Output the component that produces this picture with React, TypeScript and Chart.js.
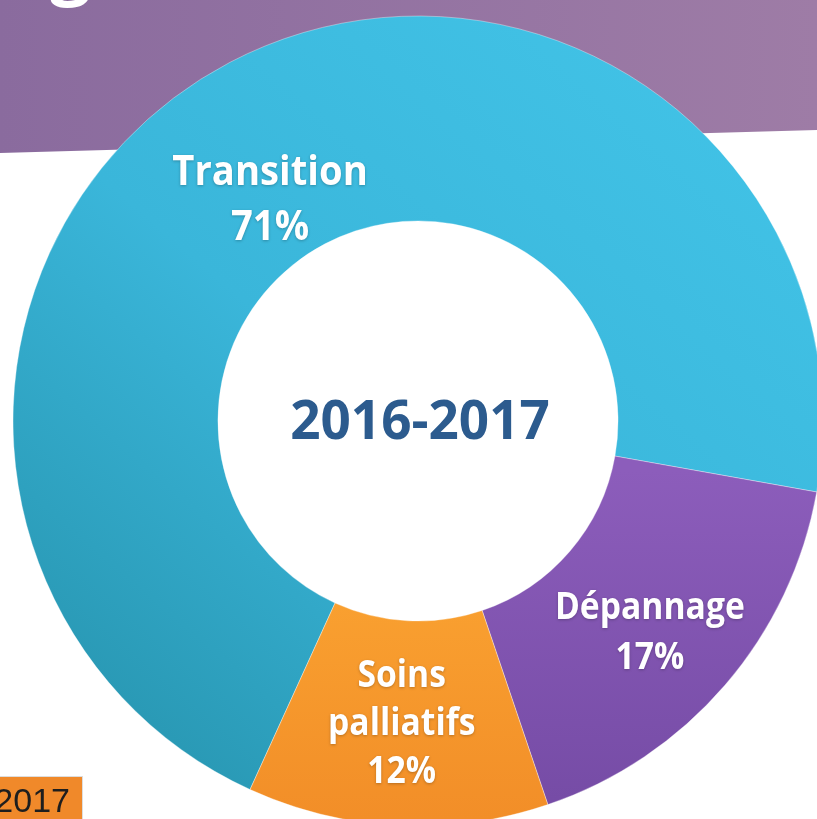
import React, { useEffect, useRef } from "react";
import { Chart, registerables } from "chart.js";

Chart.register(...registerables);

// ---- data ----
const categories = ["Transition", "Dépannage", "Soins palliatifs"];
const labelLines = [["Transition"], ["Dépannage"], ["Soins", "palliatifs"]];
const shares = [71, 17, 12];
const centerTitle = "2016-2017";
const cornerTag = "2017";
const titleFragment = "g";

// ---- style ----
const labelRadialFactor = [0.886, 1.033, 0.995];
const labelAngleShiftDeg = [-5.8, 1.4, 0.2];
const labelFontPx = [42, 37, 37];
const labelLineGap = [55, 50, 48];
const W = 817;
const H = 819;

export default function App() {
  const ref = useRef<HTMLCanvasElement>(null);

  useEffect(() => {
    const canvas = ref.current!;
    const ctx0 = canvas.getContext("2d")!;

    const gTrans = ctx0.createLinearGradient(700, 80, 150, 720);
    gTrans.addColorStop(0, "#41C2E6");
    gTrans.addColorStop(0.55, "#3AB6DA");
    gTrans.addColorStop(1, "#2A9AB6");
    const gDep = ctx0.createLinearGradient(600, 470, 600, 800);
    gDep.addColorStop(0, "#8C5DBB");
    gDep.addColorStop(1, "#764CA6");
    const gSoins = ctx0.createLinearGradient(400, 600, 400, 819);
    gSoins.addColorStop(0, "#F9A030");
    gSoins.addColorStop(1, "#F28E28");
    const fills = [gTrans, gDep, gSoins];

    const bgPlugin = {
      id: "bgPlugin",
      beforeDraw(chart: any) {
        const ctx = chart.ctx as CanvasRenderingContext2D;
        ctx.save();
        ctx.fillStyle = "#ffffff";
        ctx.fillRect(0, 0, W, H);
        const band = ctx.createLinearGradient(0, 0, W, 0);
        band.addColorStop(0, "#8A6B9E");
        band.addColorStop(1, "#9E7CA6");
        ctx.fillStyle = band;
        ctx.beginPath();
        ctx.moveTo(0, 0);
        ctx.lineTo(W, 0);
        ctx.lineTo(W, 130);
        ctx.lineTo(0, 153);
        ctx.closePath();
        ctx.fill();
        // cropped title fragment
        ctx.fillStyle = "#ffffff";
        ctx.font = "700 72px 'Open Sans', sans-serif";
        ctx.textAlign = "left";
        ctx.textBaseline = "alphabetic";
        ctx.fillText(titleFragment, 50, -9);
        // corner tag
        ctx.fillStyle = "#F0892A";
        ctx.fillRect(0, 776, 82, 43);
        ctx.strokeStyle = "#dddddd";
        ctx.lineWidth = 1;
        ctx.strokeRect(-1, 776.5, 83.5, 44);
        ctx.fillStyle = "#1e1e1e";
        ctx.font = "34px 'Liberation Sans', sans-serif";
        ctx.textAlign = "right";
        ctx.fillText(cornerTag, 70, 812);
        ctx.restore();
      },
    };

    const labelPlugin = {
      id: "labelPlugin",
      afterDatasetsDraw(chart: any) {
        const ctx = chart.ctx as CanvasRenderingContext2D;
        const meta = chart.getDatasetMeta(0);
        ctx.save();
        ctx.textAlign = "center";
        ctx.textBaseline = "alphabetic";
        let cx0 = 0;
        let cy0 = 0;
        meta.data.forEach((arc: any, i: number) => {
          const { x, y, startAngle, endAngle, innerRadius, outerRadius } =
            arc.getProps(
              ["x", "y", "startAngle", "endAngle", "innerRadius", "outerRadius"],
              true
            );
          cx0 = x;
          cy0 = y;
          const a = (startAngle + endAngle) / 2 + (labelAngleShiftDeg[i] * Math.PI) / 180;
          const r = ((innerRadius + outerRadius) / 2) * labelRadialFactor[i];
          const lx = x + Math.cos(a) * r;
          const ly = y + Math.sin(a) * r;
          const lines = [...labelLines[i], shares[i] + "%"];
          const lh = labelLineGap[i];
          const fs = labelFontPx[i];
          const start = ly - ((lines.length - 1) * lh) / 2;
          ctx.font = `700 ${fs}px 'Open Sans', sans-serif`;
          ctx.fillStyle = "#ffffff";
          ctx.shadowColor = "rgba(0,0,0,0.25)";
          ctx.shadowBlur = 3;
          ctx.shadowOffsetY = 1;
          lines.forEach((t, k) => {
            ctx.save();
            ctx.translate(lx, start + k * lh + fs * 0.357);
            ctx.scale(0.91, 1);
            ctx.fillText(t, 0, 0);
            ctx.restore();
          });
        });
        ctx.shadowColor = "transparent";
        ctx.shadowBlur = 0;
        ctx.shadowOffsetY = 0;
        ctx.font = "700 53px 'Open Sans', sans-serif";
        ctx.fillStyle = "#2C5B8E";
        ctx.fillText(centerTitle, cx0 + 2, cy0 + 18);
        ctx.restore();
      },
    };

    const chart = new Chart(canvas, {
      type: "doughnut",
      data: {
        labels: categories,
        datasets: [
          {
            data: shares,
            backgroundColor: (c: any) => fills[c.dataIndex % fills.length],
            borderColor: "rgba(255,255,255,0.35)",
            borderWidth: 1,
            rotation: 204.5,
            radius: 405,
            cutout: "49.4%",
            clip: false,
          } as any,
        ],
      },
      options: {
        responsive: false,
        animation: false,
        layout: { padding: { left: 19, top: 23, right: 0, bottom: 0 } },
        plugins: {
          legend: { display: false },
          tooltip: { enabled: false },
        },
      },
      plugins: [bgPlugin, labelPlugin],
    });
    return () => chart.destroy();
  }, []);

  return (
    <div
      style={{
        position: "fixed",
        left: 0,
        top: 0,
        width: W,
        height: H,
        background: "#fff",
        overflow: "hidden",
      }}
    >
      <canvas
        ref={ref}
        width={W}
        height={H}
        style={{ display: "block", width: W, height: H }}
      />
    </div>
  );
}
